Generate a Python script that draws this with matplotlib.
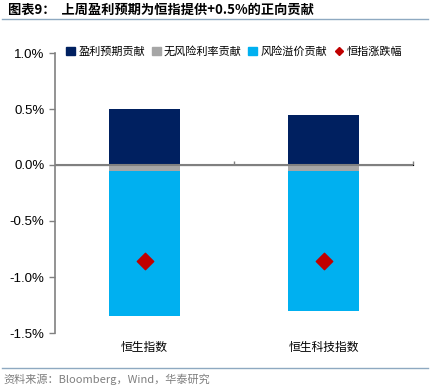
import matplotlib
matplotlib.use("Agg")
import matplotlib.pyplot as plt
from matplotlib.lines import Line2D
from matplotlib.patches import Patch
import numpy as np

plt.rcParams['font.family'] = ['Noto Sans CJK SC', 'DejaVu Sans']

categories = ['恒生指数', '恒生科技指数']
earnings = [0.50, 0.45]          # 盈利预期贡献 (%)
riskfree = [-0.05, -0.05]        # 无风险利率贡献 (%)
premium = [-1.30, -1.25]         # 风险溢价贡献 (%)
index_chg = [-0.86, -0.86]       # 恒指涨跌幅 (%)
yticks = [1.0, 0.5, 0.0, -0.5, -1.0, -1.5]

c_earn = '#002060'
c_rf = '#A6A6A6'
c_prem = '#00B0F0'
c_idx = '#C00000'

fig = plt.figure(figsize=(4.32, 3.91), dpi=100)
ax = fig.add_axes([55/432, 1-333/391, (413-55)/432, (333-53)/391])

x = np.arange(len(categories))
w = 0.4
ax.bar(x, earnings, w, color=c_earn, zorder=2)
ax.bar(x, riskfree, w, color=c_rf, zorder=2)
ax.bar(x, premium, w, bottom=riskfree, color=c_prem, zorder=2)
ax.scatter(x, index_chg, marker='D', s=70, color=c_idx, zorder=3)

ax.set_xlim(-0.5, 1.5)
ax.set_ylim(-1.5, 1.0)
ax.set_yticks(yticks)
ax.set_yticklabels([f'{v:.1f}%' for v in yticks], family=['Liberation Sans'], fontsize=9.5)
ax.set_xticks(x)
ax.set_xticklabels(categories, fontsize=8.5)
ax.tick_params(axis='x', length=0, pad=6)
ax.tick_params(axis='y', length=4, width=1, color='#808080', direction='out')

for s in ['top', 'right', 'bottom']:
    ax.spines[s].set_visible(False)
ax.spines['left'].set_color('#808080')
ax.spines['left'].set_linewidth(1.2)
ax.axhline(0, color='#808080', lw=1.5, zorder=4)

sec = ax.secondary_xaxis(0.6)
sec.set_xticks([0.5, 1.5])
sec.set_xticklabels([])
sec.tick_params(length=3, width=1, color='#808080', direction='out')
sec.spines['bottom'].set_visible(False)

handles = [Patch(color=c_earn), Patch(color=c_rf), Patch(color=c_prem),
           Line2D([], [], marker='D', color=c_idx, ls='none', markersize=4.5)]
labels = ['盈利预期贡献', '无风险利率贡献', '风险溢价贡献', '恒指涨跌幅']
ax.legend(handles, labels, loc='upper center', bbox_to_anchor=(0.5, 1.04), ncol=4,
          frameon=False, fontsize=8, handlelength=0.8, handleheight=0.8,
          handletextpad=0.3, columnspacing=0.6, borderaxespad=0)

fig.text(8/432, 1-10/391, '图表9：  上周盈利预期为恒指提供+0.5%的正向贡献',
         fontsize=9.5, fontweight='bold', va='center', ha='left', color='black')
fig.add_artist(Line2D([2/432, 428/432], [1-19/391, 1-19/391], color='#8EA9C1', lw=1))
fig.add_artist(Line2D([2/432, 428/432], [1-368/391, 1-368/391], color='#8EA9C1', lw=1))
fig.text(3/432, 1-379/391, '资料来源：Bloomberg，Wind，华泰研究', fontsize=8,
         va='center', ha='left', color='#7F7F7F')

fig.savefig('out.png', dpi=100)
